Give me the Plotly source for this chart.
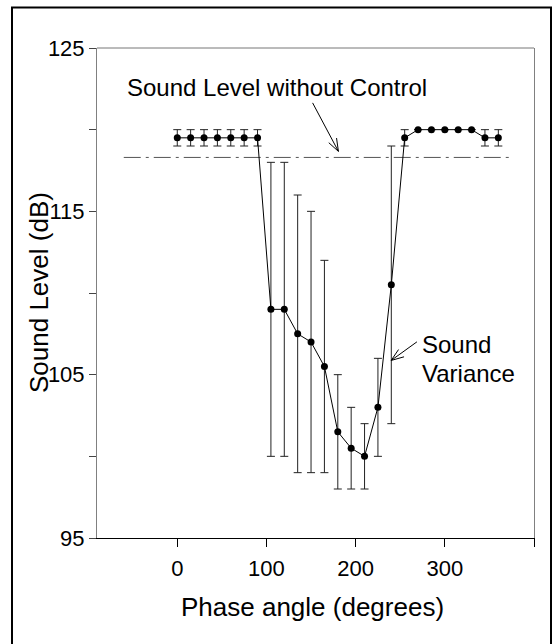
import math
import plotly.graph_objects as go

# ---- data ----
phase_deg = [0, 15, 30, 45, 60, 75, 90, 105, 120, 135, 150, 165, 180, 195, 210,
             225, 240, 255, 270, 285, 300, 315, 330, 345, 360]
sound_level = [119.5, 119.5, 119.5, 119.5, 119.5, 119.5, 119.5, 109.0, 109.0, 107.5,
               107.0, 105.5, 101.5, 100.5, 100.0, 103.0, 110.5, 119.5, 120.0, 120.0,
               120.0, 120.0, 120.0, 119.5, 119.5]
sound_variance = [0.5, 0.5, 0.5, 0.5, 0.5, 0.5, 0.5, 9.0, 9.0, 8.5,
                  8.0, 6.5, 3.5, 2.5, 2.0, 3.0, 8.5, 0.5, None, None,
                  None, None, None, 0.5, 0.5]
no_control_x = [-60, 375]
no_control_y = [118.3, 118.3]

x_tickvals = [0, 100, 200, 300, 400]
x_ticktext = ["0", "100", "200", "300", ""]
y_tickvals = [95, 100, 105, 110, 115, 120, 125]
y_ticktext = ["95", "", "105", "", "115", "", "125"]

FONT = "Arial, 'Liberation Sans', sans-serif"
W, H = 560, 644
ML, MR, MT, MB = 97, 26, 48, 106
pw = W - ML - MR
ph = H - MT - MB


def px_to_paper_x(px):
    return (px - ML) / pw


def px_to_paper_y(py):
    return 1 - (py - MT) / ph


fig = go.Figure()

fig.add_trace(go.Scatter(
    x=no_control_x, y=no_control_y, mode="lines",
    line=dict(color="#555555", width=1, dash="17px,5px,3px,5px"),
    hoverinfo="skip", showlegend=False))

fig.add_trace(go.Scatter(
    x=phase_deg, y=sound_level, mode="lines+markers",
    line=dict(color="black", width=1),
    marker=dict(color="black", size=7),
    error_y=dict(type="data", array=sound_variance, visible=True,
                 color="#222222", thickness=1, width=4),
    showlegend=False))

annotations = [
    dict(x=112, y=122.6, text="Sound Level without Control", showarrow=False,
         xanchor="center", yanchor="middle", font=dict(family=FONT, size=24, color="black")),
    dict(x=272, y=106.85, text="Sound", showarrow=False,
         xanchor="left", yanchor="middle", font=dict(family=FONT, size=24, color="black")),
    dict(x=272, y=105.05, text="Variance", showarrow=False,
         xanchor="left", yanchor="middle", font=dict(family=FONT, size=24, color="black")),
    # axis titles
    dict(xref="paper", yref="paper", x=px_to_paper_x(312), y=px_to_paper_y(607),
         text="Phase angle (degrees)", showarrow=False, xanchor="center", yanchor="middle",
         font=dict(family=FONT, size=26, color="black")),
    dict(xref="paper", yref="paper", x=px_to_paper_x(39), y=0.5, textangle=-90,
         text="Sound Level (dB)", showarrow=False, xanchor="center", yanchor="middle",
         font=dict(family=FONT, size=26, color="black")),
]

# arrows: tip in data coords, tail offset in pixels
arrows = [((180.7, 118.67), (-26.6, -50.0)),
          ((239.8, 105.87), (27.3, -19.7))]
for (tx, ty), (ax, ay) in arrows:
    annotations.append(dict(x=tx, y=ty, ax=ax, ay=ay, text="", showarrow=True,
                            arrowhead=0, arrowwidth=1, arrowcolor="black",
                            standoff=0, startstandoff=0))
    ln = math.hypot(ax, ay)
    ux, uy = ax / ln, ay / ln
    for ang in (math.radians(20), math.radians(-20)):
        bx = 15 * (ux * math.cos(ang) - uy * math.sin(ang))
        by = 15 * (ux * math.sin(ang) + uy * math.cos(ang))
        annotations.append(dict(x=tx, y=ty, ax=bx, ay=by, text="", showarrow=True,
                                arrowhead=0, arrowwidth=1, arrowcolor="black",
                                standoff=0, startstandoff=0))

shapes = [
    # top frame line of plot area
    dict(type="line", xref="paper", yref="paper", x0=0, x1=1, y0=1, y1=1,
         line=dict(color="#777777", width=1)),
    # outer border (bottom edge falls below the picture)
    dict(type="rect", xref="paper", yref="paper",
         x0=px_to_paper_x(12), x1=px_to_paper_x(551),
         y0=px_to_paper_y(660), y1=px_to_paper_y(7.5),
         line=dict(color="black", width=2), fillcolor="rgba(0,0,0,0)"),
]

fig.update_layout(
    width=W, height=H,
    margin=dict(l=ML, r=MR, t=MT, b=MB, autoexpand=False),
    paper_bgcolor="white", plot_bgcolor="white",
    font=dict(family=FONT, color="black"),
    annotations=annotations, shapes=shapes,
    xaxis=dict(range=[-90, 400], tickvals=x_tickvals, ticktext=x_ticktext,
               ticks="outside", ticklen=8, tickcolor="black", tickwidth=1,
               showline=True, linecolor="black", linewidth=1, mirror=False,
               showgrid=False, zeroline=False, ticklabelstandoff=3,
               tickfont=dict(family=FONT, size=22, color="black")),
    yaxis=dict(range=[95, 125], tickvals=y_tickvals, ticktext=y_ticktext,
               ticks="outside", ticklen=7, tickcolor="#444444", tickwidth=1,
               showline=True, linecolor="#808080", linewidth=1, mirror=True,
               showgrid=False, zeroline=False,
               tickfont=dict(family=FONT, size=22, color="black")),
)

fig.write_html("out.html")
